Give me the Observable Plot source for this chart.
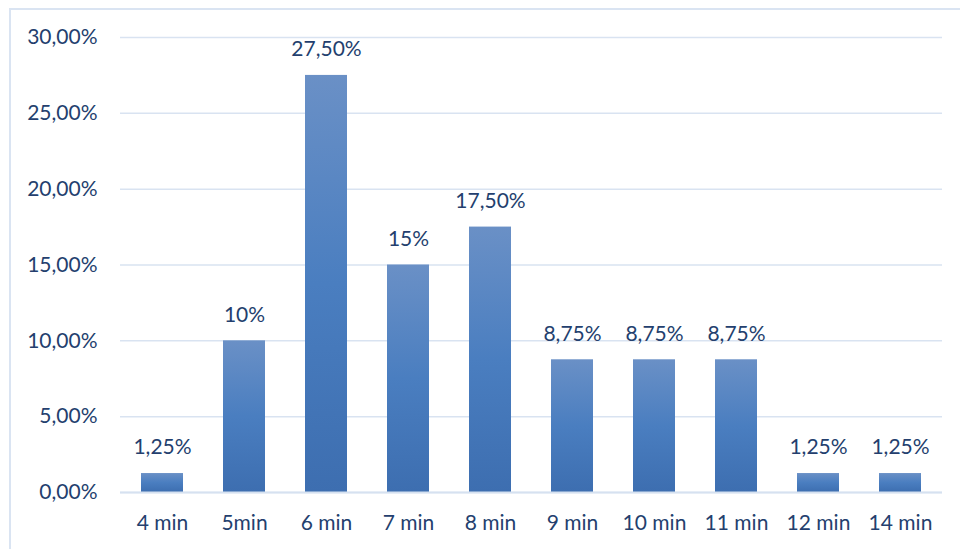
<!DOCTYPE html>
<html>
<head>
<meta charset="utf-8">
<script src="https://cdn.jsdelivr.net/npm/d3@7"></script>
<script src="https://cdn.jsdelivr.net/npm/@observablehq/plot@0.6"></script>
<style>
  html, body { margin: 0; padding: 0; background: #fff; }
  #wrap { position: relative; width: 960px; height: 549px; overflow: hidden; }
  #border { position: absolute; left: 9px; top: 8px; width: 1000px; height: 600px; border: 2px solid #dae4f2; box-sizing: border-box; }
  #chart { position: absolute; left: 0; top: 0; }
</style>
</head>
<body>
<div id="wrap"><div id="border"></div><div id="chart"></div></div>
<script>
const categories = ["4 min", "5min", "6 min", "7 min", "8 min", "9 min", "10 min", "11 min", "12 min", "14 min"];
const values = [1.25, 10, 27.5, 15, 17.5, 8.75, 8.75, 8.75, 1.25, 1.25];
const valueLabels = ["1,25%", "10%", "27,50%", "15%", "17,50%", "8,75%", "8,75%", "8,75%", "1,25%", "1,25%"];
const yTicks = [0, 5, 10, 15, 20, 25, 30];

const data = categories.map((c, i) => ({cat: c, v: values[i], label: valueLabels[i]}));
const fmt = v => v.toFixed(2).replace(".", ",") + "%";
const textColor = "#243f6e";
const fs = 21;

const chart = Plot.plot({
  width: 960,
  height: 549,
  marginLeft: 120,
  marginRight: 18,
  marginTop: 37,
  marginBottom: 57,
  style: {fontFamily: "Lato, 'Open Sans', sans-serif", fontSize: fs + "px", color: textColor, background: "transparent"},
  x: {domain: categories, paddingInner: 0.49, paddingOuter: 0.245, label: null},
  y: {domain: [0, 30], label: null},
  marks: [
    () => {
      const svg = d3.create("svg:defs");
      const g = svg.append("linearGradient").attr("id", "barGrad").attr("x1", 0).attr("y1", 0).attr("x2", 0).attr("y2", 1);
      g.append("stop").attr("offset", "0%").attr("stop-color", "#6a90c6");
      g.append("stop").attr("offset", "50%").attr("stop-color", "#4a7ec0");
      g.append("stop").attr("offset", "100%").attr("stop-color", "#3d6eb0");
      return svg.node();
    },
    Plot.ruleY(yTicks, {stroke: "#d9e3f1", strokeWidth: 1.5}),
    Plot.barY(data, {x: "cat", y: "v", fill: "url(#barGrad)"}),
    Plot.ruleY([0], {stroke: "#d6e1f0", strokeWidth: 2}),
    Plot.text(data, {x: "cat", y: "v", text: "label", dy: -26, fill: textColor, fontSize: fs}),
    Plot.axisY(yTicks, {tickSize: 0, tickPadding: 23, tickFormat: fmt, fill: textColor, fontSize: fs}),
    Plot.axisX({tickSize: 0, tickPadding: 23, fill: textColor, fontSize: fs})
  ]
});
document.getElementById("chart").appendChild(chart);
</script>
</body>
</html>
